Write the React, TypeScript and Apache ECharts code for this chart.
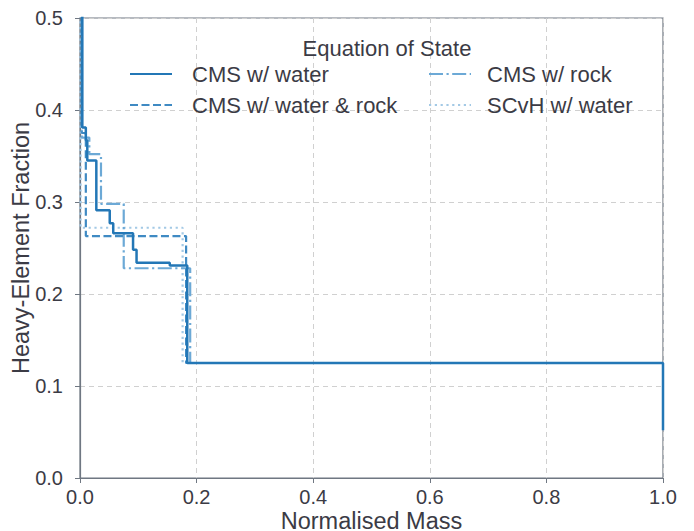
import React, { useEffect, useRef } from "react";
import * as echarts from "echarts";

// Normalised mass where each level starts, and the heavy-element fraction of that level
const waterMass = [0.0, 0.004, 0.010, 0.0125, 0.028, 0.051, 0.057, 0.091, 0.097, 0.154, 0.184, 1.0];
const waterZ = [0.9, 0.381, 0.367, 0.345, 0.291, 0.277, 0.266, 0.248, 0.234, 0.231, 0.125, 0.052];

const waterRockMass = [0.0, 0.003, 0.010, 0.182, 1.0];
const waterRockZ = [0.9, 0.375, 0.263, 0.125, 0.125];

const rockMass = [0.0, 0.003, 0.016, 0.036, 0.075, 0.189, 1.0];
const rockZ = [0.9, 0.37, 0.352, 0.298, 0.228, 0.125, 0.125];

const scvhMass = [0.0, 0.001, 0.176, 1.0];
const scvhZ = [0.9, 0.272, 0.125, 0.125];

const seriesNames = ["CMS w/ water", "CMS w/ water & rock", "CMS w/ rock", "SCvH w/ water"];
const xTicks = [0, 0.2, 0.4, 0.6, 0.8, 1.0];
const yTicks = [0, 0.1, 0.2, 0.3, 0.4, 0.5];

const FONT = "Liberation Sans, Arial, sans-serif";
const TEXT = "#3b3b45";
const AXIS = "#6f7782";

function pairs(xs: number[], ys: number[]) {
  return xs.map((x, i) => [x, ys[i]]);
}

export default function App() {
  const ref = useRef<HTMLDivElement>(null);
  useEffect(() => {
    document.body.style.margin = "0";
    if (!ref.current) return;
    const chart = echarts.init(ref.current, undefined, { renderer: "svg" });
    const lineSeries = (name: string, data: number[][], color: string, width: number, type: any, z: number) => ({
      name,
      type: "line",
      data,
      step: "end",
      showSymbol: false,
      symbol: "none",
      clip: true,
      z,
      lineStyle: { color, width, type },
      itemStyle: { color },
    });
    const legendBase = {
      orient: "vertical",
      top: 63,
      padding: 0,
      itemWidth: 42,
      itemHeight: 22,
      itemGap: 9,
      itemStyle: { color: "rgba(0,0,0,0)", borderWidth: 0, opacity: 0 },
    };
    chart.setOption({
      animation: false,
      backgroundColor: "#ffffff",
      textStyle: { fontFamily: FONT },
      title: {
        text: "Equation of State",
        left: 382,
        top: 32,
        textAlign: "center",
        textStyle: { fontFamily: FONT, fontSize: 22, fontWeight: "normal", color: TEXT },
      },
      legend: [
        {
          ...legendBase,
          left: 129,
          data: [seriesNames[0], seriesNames[1]],
          textStyle: { fontFamily: FONT, fontSize: 22, color: TEXT, padding: [0, 0, 0, 15] },
        },
        {
          ...legendBase,
          left: 428,
          data: [seriesNames[2], seriesNames[3]],
          textStyle: { fontFamily: FONT, fontSize: 22, color: TEXT, padding: [0, 0, 0, 11] },
        },
      ],
      grid: { left: 80, right: 31, top: 18, bottom: 53, containLabel: false, outerBoundsMode: "none" },
      xAxis: {
        type: "value",
        min: 0,
        max: 1,
        interval: 0.2,
        name: "Normalised Mass",
        nameLocation: "middle",
        nameGap: 31,
        nameMoveOverlap: false,
        nameTextStyle: { fontFamily: FONT, fontSize: 23.5, color: TEXT },
        axisLine: { show: true, onZero: false, lineStyle: { color: AXIS, width: 1.2 } },
        axisTick: { show: true, length: 5, lineStyle: { color: AXIS } },
        axisLabel: {
          fontFamily: FONT,
          fontSize: 20,
          color: TEXT,
          margin: 9,
          formatter: (v: number) => (xTicks.includes(Math.round(v * 10) / 10) ? v.toFixed(1) : ""),
        },
        splitLine: { show: true, lineStyle: { color: "#d0d0d0", type: [5, 4], width: 1 } },
      },
      yAxis: {
        type: "value",
        min: 0,
        max: 0.5,
        interval: 0.1,
        name: "Heavy-Element Fraction",
        nameLocation: "middle",
        nameGap: 47,
        nameMoveOverlap: false,
        nameTextStyle: { fontFamily: FONT, fontSize: 23.5, color: TEXT },
        axisLine: { show: true, onZero: false, lineStyle: { color: AXIS, width: 1.2 } },
        axisTick: { show: true, length: 5, lineStyle: { color: AXIS } },
        axisLabel: {
          fontFamily: FONT,
          fontSize: 20,
          color: TEXT,
          margin: 17,
          formatter: (v: number) => (yTicks.includes(Math.round(v * 10) / 10) ? v.toFixed(1) : ""),
        },
        splitLine: { show: true, lineStyle: { color: "#d0d0d0", type: [5, 4], width: 1 } },
      },
      graphic: [
        {
          type: "rect",
          shape: { x: 80, y: 18, width: 583, height: 460 },
          style: { fill: "none", stroke: AXIS, lineWidth: 1.2 },
          silent: true,
          z: 0,
        },
      ],
      series: [
        lineSeries(seriesNames[0], pairs(waterMass, waterZ), "#2377b6", 2.5, "solid", 10),
        lineSeries(seriesNames[1], pairs(waterRockMass, waterRockZ), "#3f8ac3", 2.2, [8, 3.5], 8),
        lineSeries(seriesNames[2], pairs(rockMass, rockZ), "#6ca9d6", 2.2, [14, 3.5, 2.2, 3.5], 7),
        lineSeries(seriesNames[3], pairs(scvhMass, scvhZ), "#a3c9e5", 2.2, [2.2, 3.6], 6),
      ],
    });
    return () => chart.dispose();
  }, []);
  return <div ref={ref} style={{ width: 694, height: 531 }} />;
}
